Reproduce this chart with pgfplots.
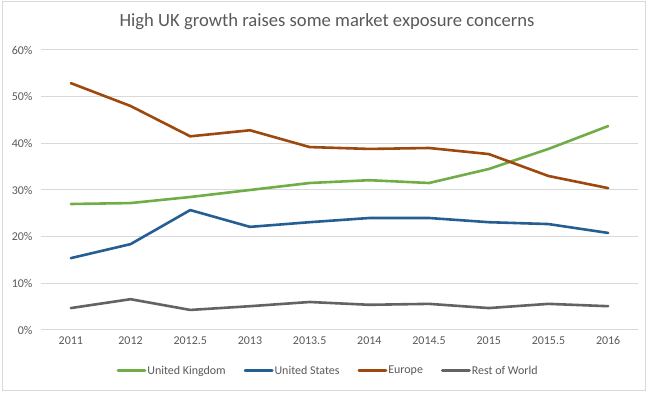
\documentclass[border=0pt]{standalone}
\usepackage{pgfplots}
\pgfplotsset{compat=1.18}
\usepackage{pgfplotstable}
\usepackage{fontspec}
\setmainfont{Carlito}
\definecolor{ukc}{HTML}{70AD47}
\definecolor{usc}{HTML}{255E91}
\definecolor{euc}{HTML}{9E480E}
\definecolor{rwc}{HTML}{636363}
\definecolor{txt}{HTML}{595959}
\definecolor{grd}{HTML}{D9D9D9}
\pgfplotstableread{
x uk us eu rw
0 27.0 15.4 52.9 4.7
1 27.2 18.4 48.0 6.6
2 28.5 25.7 41.5 4.3
3 30.0 22.1 42.8 5.1
4 31.5 23.1 39.2 6.0
5 32.1 24.0 38.8 5.4
6 31.5 24.0 39.0 5.6
7 34.5 23.1 37.7 4.7
8 38.8 22.7 33.0 5.6
9 43.7 20.8 30.4 5.1
}\datatable
\begin{document}
\begin{tikzpicture}
\path[use as bounding box] (0bp,0bp) rectangle (653bp,393bp);
\draw[grd, line width=1bp] (2.5bp,2.5bp) rectangle (645bp,391bp);
\node[text=txt, font=\fontsize{18.7}{22}\selectfont] at (327bp,371bp) {High UK growth raises some market exposure concerns};
\begin{axis}[
  at={(41bp,63bp)}, anchor=south west,
  scale only axis, width=597bp, height=280bp,
  xmin=-0.5, xmax=9.5, ymin=0, ymax=60,
  xtick={0,...,9},
  xticklabels={2011,2012,2012.5,2013,2013.5,2014,2014.5,2015,2015.5,2016},
  ytick={0,10,20,30,40,50,60},
  yticklabels={0\%,10\%,20\%,30\%,40\%,50\%,60\%},
  ymajorgrids, grid style={grd, line width=1bp},
  axis line style={draw=none},
  major tick length=0pt,
  tick label style={text=txt, font=\fontsize{12}{14}\selectfont},
  yticklabel style={xshift=-5bp},
  xticklabel style={yshift=-3bp},
  clip=false,
  legend columns=4,
  legend style={draw=none, fill=none, at={(axis description cs:0.48,-0.146)}, anchor=center,
    font=\fontsize{12}{14}\selectfont, text=txt,
    nodes={inner sep=1bp},
    /tikz/every even column/.append style={column sep=17bp}},
  legend image code/.code={\draw[#1, line width=2.8bp, line cap=round] (0bp,0bp) -- (27bp,0bp);},
  every axis plot/.append style={line width=2.6bp, line join=round, line cap=round},
]
\addplot[ukc] table[x=x,y=uk] {\datatable};
\addlegendentry{United Kingdom}
\addplot[usc] table[x=x,y=us] {\datatable};
\addlegendentry{United States}
\addplot[euc] table[x=x,y=eu] {\datatable};
\addlegendentry{Europe}
\addplot[rwc] table[x=x,y=rw] {\datatable};
\addlegendentry{Rest of World}
\end{axis}
\end{tikzpicture}
\end{document}
